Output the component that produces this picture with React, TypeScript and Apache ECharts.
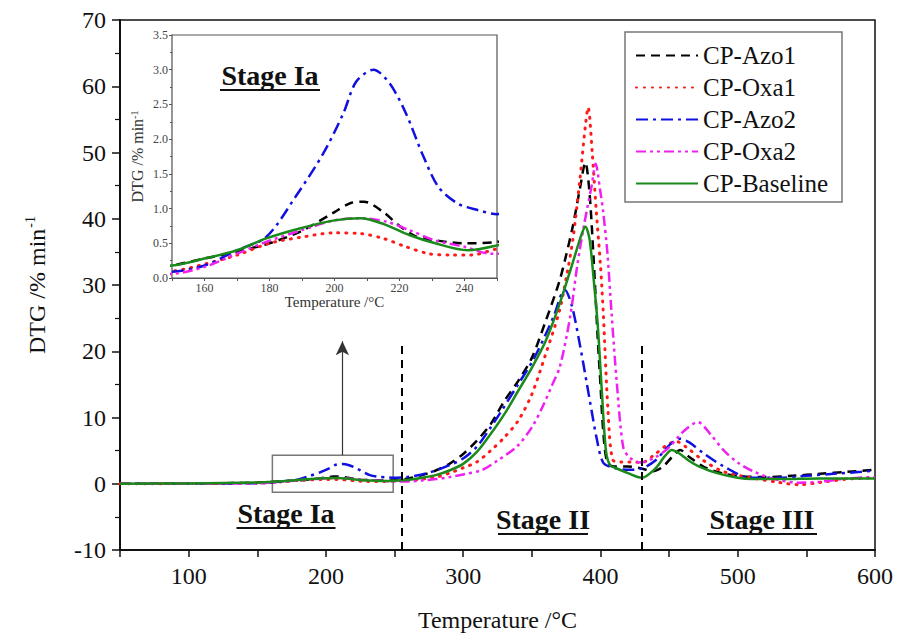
import React, { useEffect, useRef } from 'react';
import * as echarts from 'echarts';

const FONT = "'Liberation Serif', 'Times New Roman', serif";

// Temperatures (°C) and DTG values (% min-1) per series
const azo1T = [50, 100, 140, 150, 160, 170, 180, 190, 200, 205, 209, 215, 220, 225, 230, 240, 250, 260, 270, 280, 290, 300, 310, 320, 330, 340, 350, 360, 370, 375, 380, 385, 389, 392, 395, 398, 400, 402, 405, 410, 420, 430, 438, 445, 452, 458, 465, 475, 490, 505, 520, 540, 560, 580, 600];
const azo1V = [0, 0.05, 0.12, 0.18, 0.28, 0.38, 0.5, 0.68, 0.95, 1.08, 1.1, 0.95, 0.75, 0.6, 0.55, 0.5, 0.52, 0.8, 1.3, 2.0, 3.0, 4.5, 6.5, 9.0, 12.5, 15.5, 19.0, 24.5, 30.5, 34.5, 39.0, 44.5, 48.5, 44.0, 34.0, 22.0, 15.0, 8.0, 3.2, 2.6, 2.6, 2.3, 1.9, 2.5, 4.0, 5.1, 4.0, 2.6, 1.5, 1.1, 1.0, 1.2, 1.5, 1.8, 2.1];

const oxa1T = [50, 100, 150, 160, 170, 180, 190, 200, 208, 215, 222, 229, 236, 242, 250, 260, 270, 280, 290, 300, 310, 320, 330, 340, 350, 360, 370, 375, 380, 385, 389, 391, 394, 397, 400, 402, 405.5, 409, 415, 422, 430, 440, 448, 455, 462, 475, 490, 510, 530, 545, 560, 580, 600];
const oxa1V = [0, 0.03, 0.1, 0.2, 0.33, 0.5, 0.59, 0.65, 0.64, 0.57, 0.45, 0.35, 0.33, 0.33, 0.42, 0.5, 0.7, 1.0, 1.6, 2.4, 3.3, 5.0, 7.0, 9.5, 13.5, 19.5, 26.0, 31.0, 37.0, 45.9, 54.0, 56.8, 50.0, 41.0, 33.0, 26.0, 11.0, 3.6, 3.3, 3.3, 3.2, 4.5, 5.8, 6.4, 5.6, 3.5, 1.8, 0.9, 0.2, -0.15, 0.2, 0.7, 0.9];

const azo2T = [50, 100, 150, 160, 170, 179, 188, 196.5, 202.7, 206.7, 212, 217, 222, 227, 232, 238, 244, 250, 260, 270, 280, 290, 300, 310, 320, 327, 340, 351, 360, 366, 374, 379, 385, 390, 394, 397, 402, 410, 420, 430, 440, 450, 458, 465, 475, 490, 509, 530, 550, 570, 590, 600];
const azo2V = [0, 0.02, 0.09, 0.18, 0.4, 0.59, 1.17, 1.79, 2.37, 2.83, 3.0, 2.8, 2.37, 1.79, 1.31, 1.07, 0.98, 0.92, 1.05, 1.4, 2.0, 2.8, 3.8, 5.6, 8.5, 10.7, 15.0, 18.7, 22.5, 25.3, 29.3, 27.0, 21.0, 15.2, 10.5, 7.1, 3.2, 2.4, 2.1, 2.3, 3.5, 5.8, 6.8, 6.2, 4.6, 2.6, 0.9, 0.9, 1.2, 1.5, 1.8, 2.0];

const oxa2T = [50, 100, 150, 160, 170, 179, 190, 200, 208, 216, 223, 231, 240, 248, 260, 270, 280, 290, 300, 314, 325, 339, 350, 358, 365, 370.5, 378, 383, 388, 393.6, 396.5, 399.7, 402, 405, 408, 412, 416.6, 421, 428.8, 440, 450, 460, 471, 480, 490, 500, 511, 525, 545, 560, 580, 600];
const oxa2V = [0, 0.02, 0.06, 0.16, 0.35, 0.52, 0.69, 0.83, 0.86, 0.81, 0.69, 0.54, 0.45, 0.35, 0.35, 0.5, 0.7, 1.0, 1.4, 2.1, 3.5, 5.6, 8.5, 11.7, 15.0, 17.7, 25.3, 32.8, 39.0, 45.0, 48.3, 44.4, 41.0, 35.0, 26.0, 15.0, 5.5, 4.0, 3.2, 4.0, 5.5, 7.8, 9.3, 7.5, 5.0, 3.2, 1.9, 0.8, 0.15, 0.3, 0.8, 1.0];

const baseT = [50, 100, 150, 160, 170, 179, 189, 200, 208, 215, 223, 231, 241, 250, 260, 270, 280, 290, 300, 310, 320, 330, 340, 350, 360, 370, 380, 386, 389, 392, 395, 398, 401, 404, 407, 412, 420, 430, 440, 447, 452, 458, 465, 472, 485, 500, 510, 530, 560, 600];
const baseV = [0, 0.05, 0.18, 0.28, 0.4, 0.57, 0.71, 0.83, 0.86, 0.78, 0.62, 0.5, 0.4, 0.47, 0.6, 0.9, 1.3, 2.0, 3.0, 4.8, 7.5, 10.5, 14.0, 17.5, 21.5, 27.0, 33.5, 37.5, 38.8, 37.0, 31.0, 24.0, 14.0, 5.0, 2.8, 2.3, 1.6, 0.9, 2.3, 4.2, 5.1, 4.5, 3.4, 2.6, 1.6, 0.9, 0.7, 0.7, 0.8, 0.8];

const seriesNames = ['CP-Azo1', 'CP-Oxa1', 'CP-Azo2', 'CP-Oxa2', 'CP-Baseline'];
const mainXLabels = [100, 200, 300, 400, 500, 600];
const mainXTicks = [50, 100, 150, 200, 250, 300, 350, 400, 450, 500, 550, 600];
const insetXLabels = [160, 180, 200, 220, 240];
const insetXTicks = [150, 160, 170, 180, 190, 200, 210, 220, 230, 240, 250];
const stageBounds = [255, 430];

const seriesData = [
  azo1T.map((t, i) => [t, azo1V[i]]),
  oxa1T.map((t, i) => [t, oxa1V[i]]),
  azo2T.map((t, i) => [t, azo2V[i]]),
  oxa2T.map((t, i) => [t, oxa2V[i]]),
  baseT.map((t, i) => [t, baseV[i]]),
];

const lineStyles: any[] = [
  { color: '#000000', type: [9, 6], cap: 'butt' },
  { color: '#ff1a1a', type: [1, 7], cap: 'round' },
  { color: '#1010e0', type: [12, 5, 3, 5], cap: 'butt' },
  { color: '#f020f0', type: [10, 4, 3, 4, 3, 4], cap: 'butt' },
  { color: '#1a8a1a', type: 'solid', cap: 'butt' },
];

export default function App() {
  const ref = useRef<HTMLDivElement>(null);
  useEffect(() => {
    const chart = echarts.init(ref.current as HTMLDivElement, null, { renderer: 'svg' });
    const mainSeries: any[] = seriesNames.map((name, i) => ({
      name,
      type: 'line',
      xAxisIndex: 0,
      yAxisIndex: 0,
      data: seriesData[i],
      symbol: 'none',
      symbolSize: 0,
      smooth: 0.3,
      z: 3,
      lineStyle: {
        color: lineStyles[i].color,
        type: lineStyles[i].type,
        cap: lineStyles[i].cap,
        width: i === 1 ? 3 : 2.5,
      },
      itemStyle: { color: lineStyles[i].color },
    }));
    mainSeries[0].markLine = {
      silent: true,
      symbol: 'none',
      label: { show: false },
      lineStyle: { color: '#000', type: [8, 6], width: 2 },
      data: stageBounds.map((b) => [{ coord: [b, -10] }, { coord: [b, 21.7] }]),
    };
    mainSeries[1].markLine = {
      silent: true,
      symbol: ['none', 'arrow'],
      symbolSize: [10, 14],
      label: { show: false },
      lineStyle: { color: '#333', type: 'solid', width: 1.2 },
      data: [[{ coord: [212, 4.3] }, { coord: [212, 21.5] }]],
    };
    mainSeries[2].markArea = {
      silent: true,
      itemStyle: { color: 'rgba(0,0,0,0)', borderColor: '#777', borderWidth: 1.5 },
      data: [[{ coord: [161, 4.3] }, { coord: [249, -1.3] }]],
    };
    const insetSeries: any[] = seriesNames.map((name, i) => ({
      name,
      type: 'line',
      xAxisIndex: 1,
      yAxisIndex: 1,
      data: seriesData[i],
      symbol: 'none',
      symbolSize: 0,
      smooth: 0.3,
      clip: true,
      z: 5,
      lineStyle: {
        color: lineStyles[i].color,
        type: lineStyles[i].type,
        cap: lineStyles[i].cap,
        width: i === 1 ? 3 : 2.5,
      },
      itemStyle: { color: lineStyles[i].color },
    }));

    const stageText = (x: number, y: number, text: string, w: number) => [
      {
        type: 'text',
        x,
        y,
        z: 20,
        style: { text, font: `bold 28px ${FONT}`, fill: '#111', align: 'center', verticalAlign: 'middle' },
      },
      {
        type: 'line',
        z: 20,
        shape: { x1: x - w / 2, y1: y + 15, x2: x + w / 2, y2: y + 15 },
        style: { stroke: '#111', lineWidth: 2 },
      },
    ];

    const option: any = {
      animation: false,
      backgroundColor: '#fff',
      textStyle: { fontFamily: FONT },
      grid: [
        { left: 120, right: 25, top: 20, bottom: 90, show: true, borderColor: '#111', borderWidth: 1.5, backgroundColor: 'transparent' },
        { left: 172, right: 403, top: 35, bottom: 362, show: true, borderColor: '#555', borderWidth: 1.2, backgroundColor: '#fff', z: 4 },
      ],
      xAxis: [
        {
          type: 'value', gridIndex: 0, min: 50, max: 600,
          name: 'Temperature /°C', nameLocation: 'middle', nameGap: 58,
          nameTextStyle: { fontSize: 24, color: '#111', fontFamily: FONT },
          axisLine: { show: true, onZero: false, lineStyle: { color: '#111', width: 2 } },
          axisTick: { show: true, customValues: mainXTicks, length: 7, lineStyle: { color: '#111', width: 1.5 } },
          axisLabel: { customValues: mainXLabels, fontSize: 24, color: '#111', fontFamily: FONT, margin: 14 },
          splitLine: { show: false },
        },
        {
          type: 'value', gridIndex: 1, min: 150, max: 250,
          name: 'Temperature /°C', nameLocation: 'middle', nameGap: 16,
          nameTextStyle: { fontSize: 15, color: '#333', fontFamily: FONT },
          axisLine: { show: true, onZero: false, lineStyle: { color: '#555', width: 1.2 } },
          axisTick: { show: true, customValues: insetXTicks, length: 3, lineStyle: { color: '#555' } },
          axisLabel: { customValues: insetXLabels, fontSize: 12, color: '#444', fontFamily: FONT, margin: 4 },
          splitLine: { show: false },
        },
      ],
      yAxis: [
        {
          type: 'value', gridIndex: 0, min: -10, max: 70, interval: 10,
          name: '{a|DTG /% min}{b|-1}', nameLocation: 'middle', nameGap: 71, nameRotate: 90,
          nameTextStyle: {
            fontFamily: FONT, color: '#111',
            rich: {
              a: { fontSize: 24, fontFamily: FONT, color: '#111', lineHeight: 26, verticalAlign: 'bottom' },
              b: { fontSize: 14, fontFamily: FONT, color: '#111', lineHeight: 26, verticalAlign: 'top', padding: [0, 0, 10, 1] },
            },
          },
          axisLine: { show: true, onZero: false, lineStyle: { color: '#111', width: 2 } },
          axisTick: { show: true, length: 8, lineStyle: { color: '#111', width: 1.5 } },
          minorTick: { show: true, splitNumber: 2, length: 5, lineStyle: { color: '#111', width: 1.2 } },
          axisLabel: { fontSize: 24, color: '#111', fontFamily: FONT, margin: 14 },
          splitLine: { show: false },
          minorSplitLine: { show: false },
        },
        {
          type: 'value', gridIndex: 1, min: 0, max: 3.5, interval: 0.5,
          name: '{a|DTG /% min}{b|-1}', nameLocation: 'middle', nameGap: 26, nameRotate: 90,
          nameTextStyle: {
            fontFamily: FONT, color: '#333',
            rich: {
              a: { fontSize: 16, fontFamily: FONT, color: '#333', lineHeight: 17 },
              b: { fontSize: 10, fontFamily: FONT, color: '#333', lineHeight: 17, verticalAlign: 'top' },
            },
          },
          axisLine: { show: true, onZero: false, lineStyle: { color: '#555', width: 1.2 } },
          axisTick: { show: true, length: 3, lineStyle: { color: '#555' } },
          minorTick: { show: true, splitNumber: 2, length: 2, lineStyle: { color: '#555' } },
          axisLabel: { fontSize: 12, color: '#444', fontFamily: FONT, margin: 4, formatter: (v: number) => v.toFixed(1) },
          splitLine: { show: false },
          minorSplitLine: { show: false },
        },
      ],
      legend: {
        data: seriesNames,
        orient: 'vertical',
        left: 625,
        top: 32,
        padding: [11, 14, 6, 10],
        itemGap: 7,
        itemWidth: 62,
        itemHeight: 14,
        itemStyle: { opacity: 0 },
        backgroundColor: '#fff',
        borderColor: '#777',
        borderWidth: 1.5,
        borderRadius: 0,
        textStyle: { fontSize: 25, color: '#111', fontFamily: FONT },
        z: 10,
      },
      graphic: [
        ...stageText(286, 513, 'Stage Ia', 99),
        ...stageText(543, 519, 'Stage II', 90),
        ...stageText(762, 519, 'Stage III', 110),
        ...stageText(270, 75, 'Stage Ia', 100),
      ],
      series: [...mainSeries, ...insetSeries],
    };
    chart.setOption(option);
    return () => chart.dispose();
  }, []);
  return <div ref={ref} style={{ position: 'absolute', left: 0, top: 0, width: 900, height: 640 }} />;
}
